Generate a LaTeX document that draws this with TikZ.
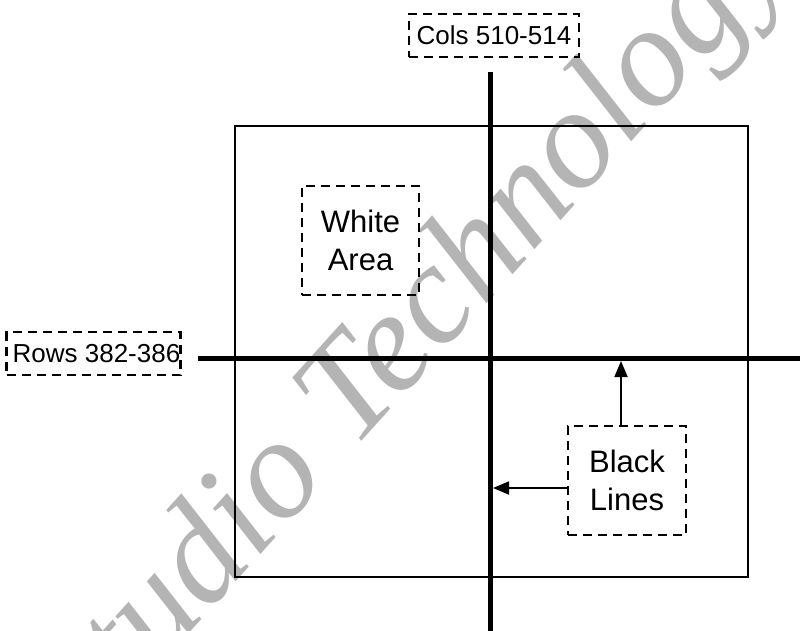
\documentclass[tikz,border=0pt]{standalone}
\usepackage{fontspec}
\setmainfont{Liberation Sans}
\newfontfamily\wmfont{Liberation Serif}
\usetikzlibrary{arrows.meta}
\definecolor{wmgray}{HTML}{B4B4B4}
\tikzset{
  dbox/.style={draw, line width=2.6pt, dash pattern=on 9pt off 6pt, inner sep=0pt, align=center},
  thickline/.style={line width=5pt},
  frame/.style={line width=2pt},
  arr/.style={line width=1.8pt, -{Triangle[length=16pt,width=13pt]}},
  small/.style={font=\fontsize{26}{30}\selectfont},
  big/.style={font=\fontsize{31}{38}\selectfont},
}
\begin{document}
\begin{tikzpicture}[x=1pt,y=-1pt]
\useasboundingbox (0,0) rectangle (800,631);
% watermark
\node[text=wmgray, rotate=48, font=\wmfont\itshape\fontsize{143}{143}\selectfont, inner sep=0pt] (wm) at (413,334) {Studio Technology};
% frame
\draw[frame] (235,126) rectangle (748,577);
% thick lines
\coordinate (vtop) at (490,72);
\coordinate (vbot) at (490,631);
\coordinate (hl) at (198,358);
\coordinate (hr) at (800,358);
\draw[thickline] (vtop) -- (vbot);
\draw[thickline] (hl) -- (hr);
% labels
\node[dbox, small, minimum width=170pt, minimum height=43pt] (cols) at (494,35.5) {Cols 510-514};
\node[dbox, small, minimum width=173pt, minimum height=43pt] (rows) at (93.5,353.5) {\hspace*{6pt}Rows 382-386};
\node[dbox, big, minimum width=117pt, minimum height=109pt] (white) at (360.5,240.5) {White\\Area};
\node[dbox, big, minimum width=118pt, minimum height=109pt] (black) at (627,480.5) {Black\\Lines};
% arrows
\coordinate (h1) at (621,361);
\coordinate (v1) at (493,488);
\draw[arr] (black.north -| h1) -- (h1);
\draw[arr] (black.west |- v1) -- (v1);
\end{tikzpicture}
\end{document}
